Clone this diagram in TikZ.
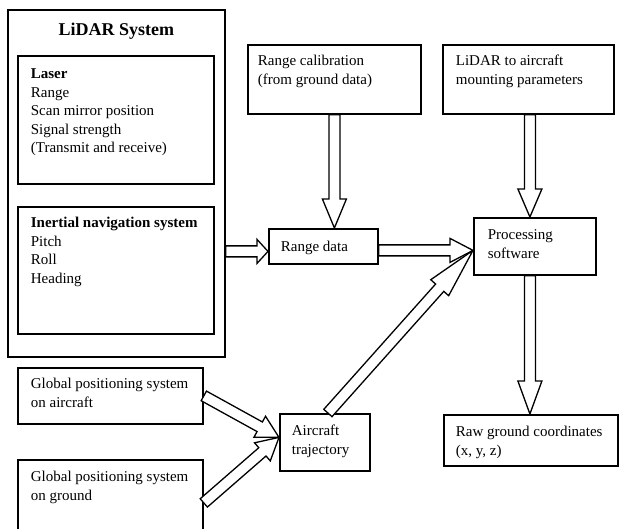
\documentclass[tikz,border=0pt]{standalone}
\usepackage{fontspec}
\setmainfont{Liberation Serif}
\usetikzlibrary{calc}
\tikzset{
  box/.style={draw, line width=1.8pt, anchor=north west, inner sep=0pt,
    font=\fontsize{15}{18.5}\selectfont},
  blockarrow/.style={draw, line width=1.3pt, fill=white, line join=miter},
}
% width, height, left indent, first-line offset, text
\newcommand\bxt[5]{\parbox[t][#2pt][t]{#1pt}{\leftskip=#3pt\rule{0pt}{#4pt}#5}}
% from, to, head length
\newcommand\barr[3]{%
  \coordinate (ba) at #1;
  \coordinate (bb) at #2;
  \coordinate (bs) at ($(bb)!#3pt!(ba)$);
  \draw[blockarrow] ($(ba)!5.5pt!90:(bb)$) -- ($(bs)!5.5pt!90:(bb)$)
    -- ($(bs)!12pt!90:(bb)$) -- (bb) -- ($(bs)!12pt!-90:(bb)$)
    -- ($(bs)!5.5pt!-90:(bb)$) -- ($(ba)!5.5pt!-90:(bb)$) -- cycle;}
\begin{document}
\begin{tikzpicture}[x=1pt,y=-1pt]
\useasboundingbox (0,0) rectangle (621,529);
% LiDAR system
\node[box] (lidar) at (7,9) {\parbox[t][347pt][t]{217pt}{\centering\fontsize{18}{20}\selectfont\bfseries\rule{0pt}{26pt}LiDAR System}};
\node[box] (laser) at (17,55) {\bxt{196}{128}{13}{23}{\textbf{Laser}\\Range\\Scan mirror position\\Signal strength\\(Transmit and receive)}};
\node[box] (ins) at (17,206) {\bxt{196}{127}{13}{21}{\textbf{Inertial navigation system}\\Pitch\\Roll\\Heading}};
% other boxes
\node[box] (rc) at (247,44) {\bxt{173}{69}{10}{21}{Range calibration\\(from ground data)}};
\node[box] (mount) at (442,44) {\bxt{171}{69}{13}{21}{LiDAR to aircraft\\mounting parameters}};
\node[box] (rd) at (268,228) {\bxt{109}{35}{12}{23}{Range data}};
\node[box] (proc) at (473,217) {\bxt{122}{57}{14}{22}{Processing\\software}};
\node[box] (raw) at (443,414) {\bxt{174}{51}{12}{22}{Raw ground coordinates\\(x, y, z)}};
\node[box] (gpsa) at (17,367) {\bxt{185}{56}{13}{21}{Global positioning system\\on aircraft}};
\node[box] (gpsg) at (17,459) {\bxt{185}{72}{13}{22}{Global positioning system\\on ground}};
\node[box] (traj) at (279,413) {\bxt{90}{57}{12}{22}{Aircraft\\trajectory}};
% arrows
\coordinate (t1) at ($(rd.west)+(0,5)$);
\barr{(lidar.east |- t1)}{(t1)}{11}
\barr{(rc.south)}{(rc.south |- rd.north)}{29}
\coordinate (pt) at ($(proc.west)+(0,4)$);
\barr{(rd.east |- pt)}{(pt)}{23}
\barr{($(traj.north)+(3,0)$)}{(pt)}{50}
\coordinate (vx) at ($(proc.north)+(-5,0)$);
\barr{(mount.south -| vx)}{(vx)}{28}
\coordinate (vy) at ($(proc.south)+(-5,0)$);
\barr{(vy)}{(vy |- raw.north)}{33}
\coordinate (tt) at ($(traj.west)+(0,-5)$);
\barr{(gpsa.east)}{(tt)}{22}
\barr{($(gpsg.east)+(0,7)$)}{(tt)}{22}
\end{tikzpicture}
\end{document}
